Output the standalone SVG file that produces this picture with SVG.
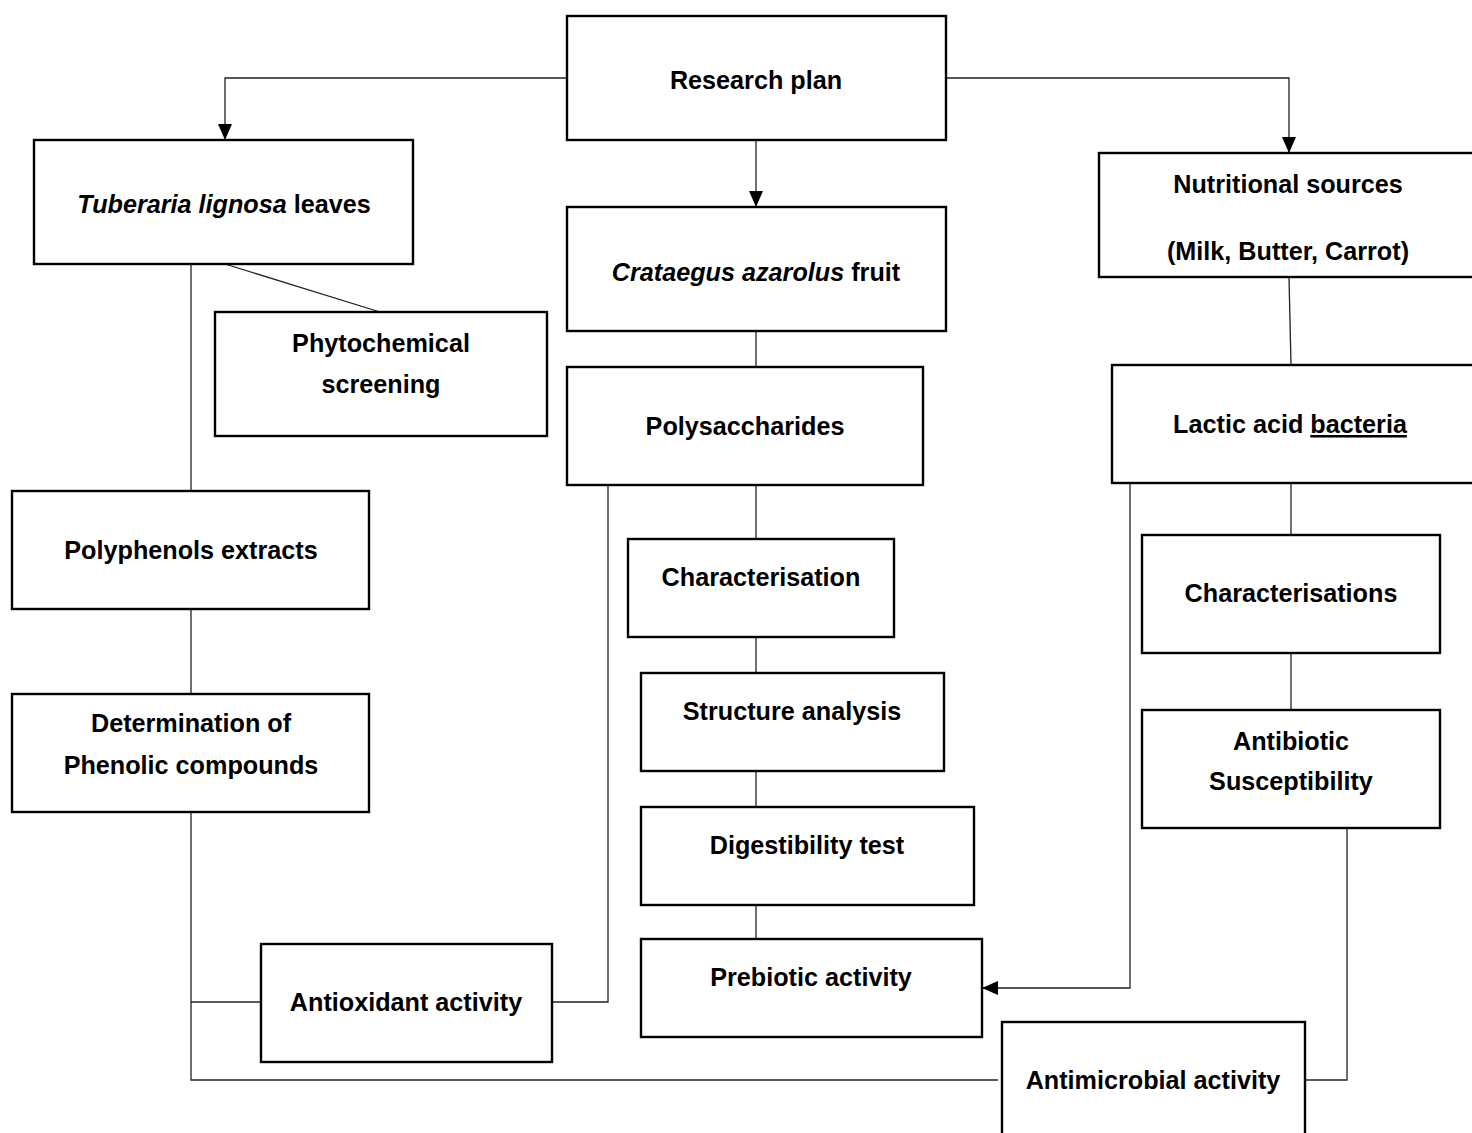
<svg xmlns="http://www.w3.org/2000/svg" width="1472" height="1133" viewBox="0 0 1472 1133">
<defs>
<style>
.box{fill:#fff;stroke:#000;stroke-width:2.4}
.ln{fill:none;stroke:#222;stroke-width:1.3}
text{font-family:"Liberation Sans",Arial,sans-serif;font-weight:bold;font-size:25.2px;fill:#000;text-anchor:middle}
.it{font-style:italic}
</style>
<marker id="ah" viewBox="0 0 16 14" refX="16" refY="7" markerWidth="16" markerHeight="14" markerUnits="userSpaceOnUse" orient="auto">
<path d="M0,0 L16,7 L0,14 Z" fill="#000"/>
</marker>
</defs>
<rect width="1472" height="1133" fill="#fff"/>
<g id="connectors">
<path class="ln" d="M567,78 H225 V140" marker-end="url(#ah)"/>
<path class="ln" d="M946,78 H1289 V153" marker-end="url(#ah)"/>
<path class="ln" d="M756,140 V207" marker-end="url(#ah)"/>
<path class="ln" d="M225,264 L380,312"/>
<path class="ln" d="M191,264 V491"/>
<path class="ln" d="M191,609 V694"/>
<path class="ln" d="M756,331 V367"/>
<path class="ln" d="M756,485 V539"/>
<path class="ln" d="M756,637 V673"/>
<path class="ln" d="M756,771 V807"/>
<path class="ln" d="M756,905 V939"/>
<path class="ln" d="M1289,277 L1291,365"/>
<path class="ln" d="M1291,483 V535"/>
<path class="ln" d="M1291,653 V710"/>
<path class="ln" d="M191,812 V1080 H998"/>
<path class="ln" d="M191,1002 H261"/>
<path class="ln" d="M552,1002 H608 V485"/>
<path class="ln" d="M1130,483 V988 H982" marker-end="url(#ah)"/>
<path class="ln" d="M1305,1080 H1347 V828"/>
</g>
<g id="research-plan"><rect class="box" x="567" y="16" width="379" height="124"/><text x="756" y="89">Research plan</text></g>
<g id="tuberaria"><rect class="box" x="34" y="140" width="379" height="124"/><text x="224" y="213"><tspan class="it">Tuberaria lignosa</tspan> leaves</text></g>
<g id="crataegus"><rect class="box" x="567" y="207" width="379" height="124"/><text x="756" y="281"><tspan class="it">Crataegus azarolus</tspan> fruit</text></g>
<g id="nutritional"><rect class="box" x="1099" y="153" width="380" height="124"/><text x="1288" y="193">Nutritional sources</text><text x="1288" y="260">(Milk, Butter, Carrot)</text></g>
<g id="phytochemical"><rect class="box" x="215" y="312" width="332" height="124"/><text x="381" y="352">Phytochemical</text><text x="381" y="393">screening</text></g>
<g id="polyphenols"><rect class="box" x="12" y="491" width="357" height="118"/><text x="191" y="559">Polyphenols extracts</text></g>
<g id="phenolic"><rect class="box" x="12" y="694" width="357" height="118"/><text x="191" y="732">Determination of</text><text x="191" y="774">Phenolic compounds</text></g>
<g id="polysaccharides"><rect class="box" x="567" y="367" width="356" height="118"/><text x="745" y="435">Polysaccharides</text></g>
<g id="characterisation"><rect class="box" x="628" y="539" width="266" height="98"/><text x="761" y="586">Characterisation</text></g>
<g id="structure"><rect class="box" x="641" y="673" width="303" height="98"/><text x="792" y="720">Structure analysis</text></g>
<g id="digestibility"><rect class="box" x="641" y="807" width="333" height="98"/><text x="807" y="854">Digestibility test</text></g>
<g id="prebiotic"><rect class="box" x="641" y="939" width="341" height="98"/><text x="811" y="986">Prebiotic activity</text></g>
<g id="lactic"><rect class="box" x="1112" y="365" width="365" height="118"/><text x="1290" y="433">Lactic acid <tspan text-decoration="underline">bacteria</tspan></text></g>
<g id="characterisations"><rect class="box" x="1142" y="535" width="298" height="118"/><text x="1291" y="602">Characterisations</text></g>
<g id="antibiotic"><rect class="box" x="1142" y="710" width="298" height="118"/><text x="1291" y="750">Antibiotic</text><text x="1291" y="790">Susceptibility</text></g>
<g id="antioxidant"><rect class="box" x="261" y="944" width="291" height="118"/><text x="406" y="1011">Antioxidant activity</text></g>
<g id="antimicrobial"><rect class="box" x="1002" y="1022" width="303" height="124"/><text x="1153" y="1089">Antimicrobial activity</text></g>
</svg>
